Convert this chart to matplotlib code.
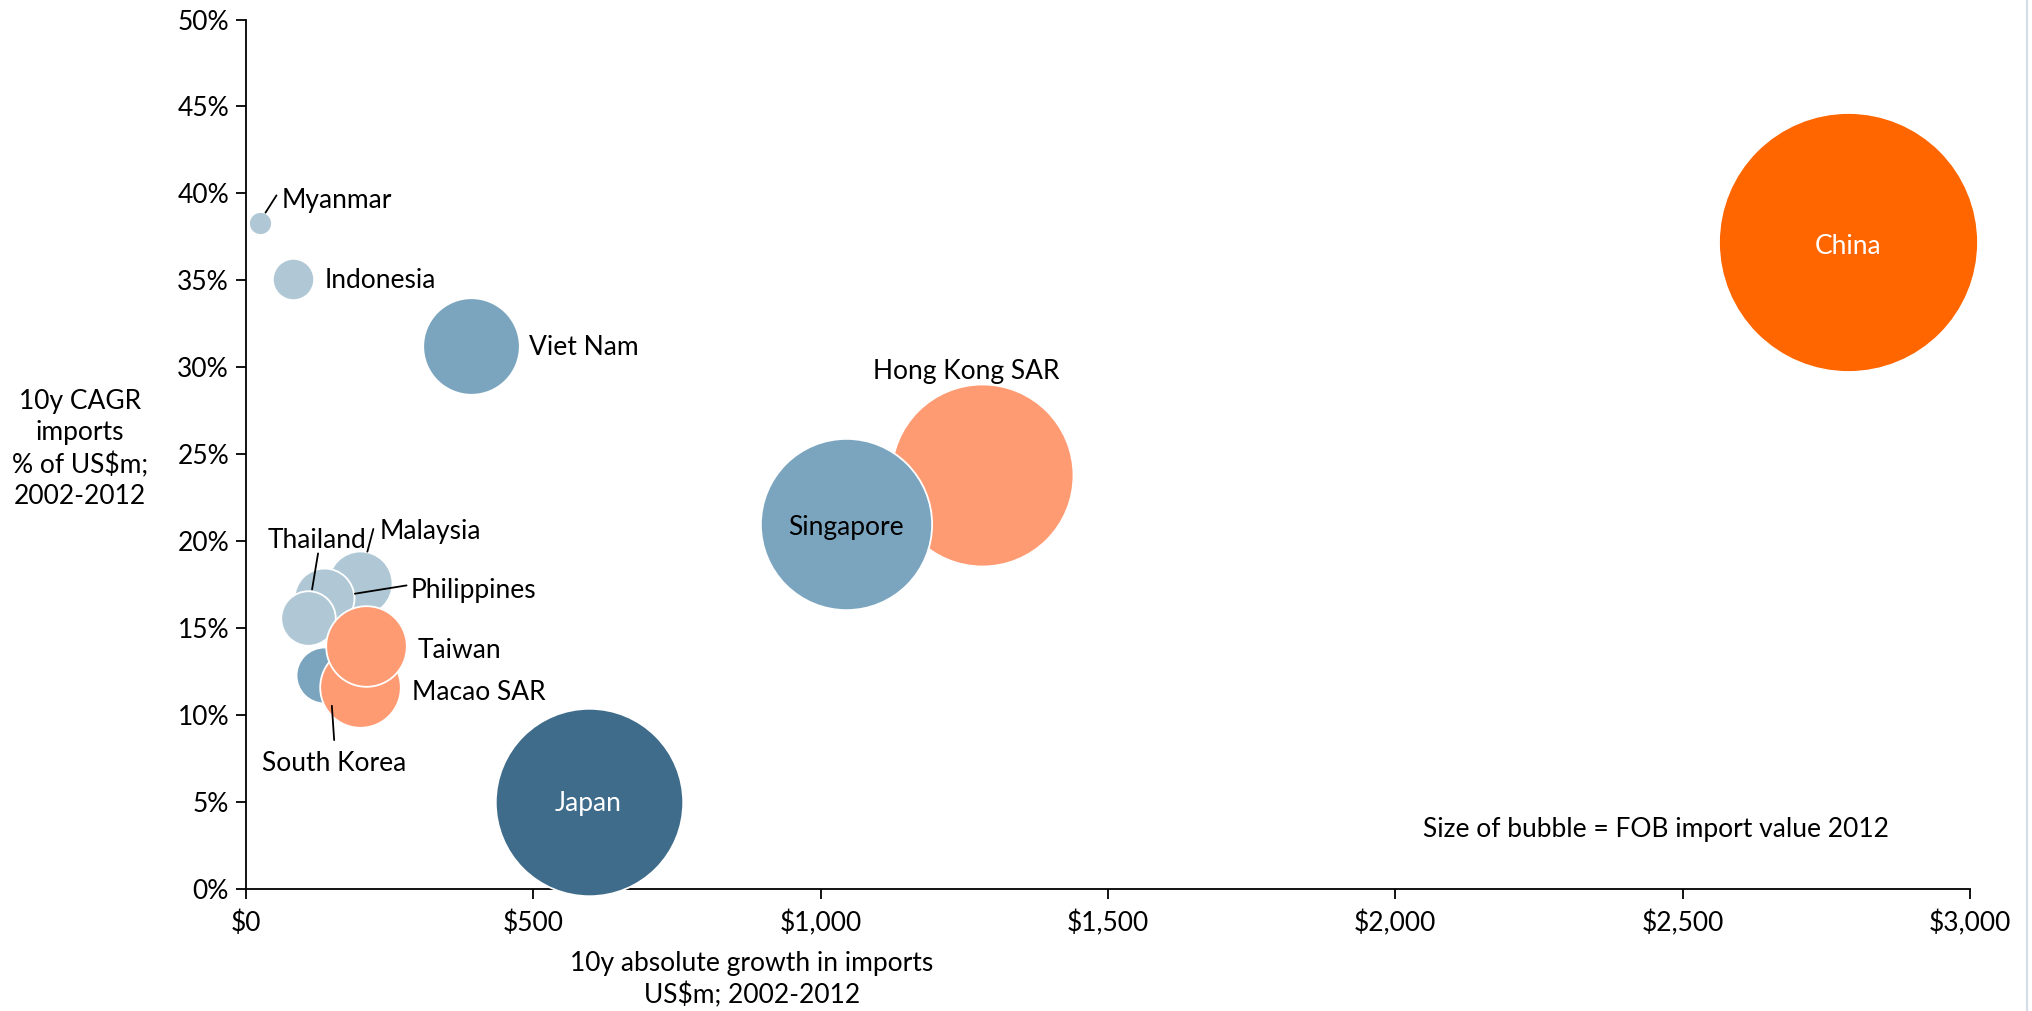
import numpy as np
import matplotlib
matplotlib.use('Agg')
from matplotlib import pyplot as plt
from matplotlib.transforms import offset_copy
from matplotlib.ticker import FuncFormatter

plt.rcParams['font.family'] = ['Lato', 'DejaVu Sans']

# data
countries = ['China', 'Japan', 'Hong Kong SAR', 'Singapore', 'Viet Nam', 'Indonesia', 'Myanmar',
             'South Korea', 'Malaysia', 'Philippines', 'Thailand', 'Macao SAR', 'Taiwan']
growth = [2788, 596, 1280, 1044, 391, 82, 24, 136, 199, 136, 108, 199, 209]       # US$m 2002-2012
cagr = [37.2, 5.0, 23.8, 21.0, 31.2, 35.1, 38.3, 12.3, 17.6, 16.75, 15.6, 11.6, 14.0]  # %
fob_2012 = [2913, 1525, 1438, 1273, 405, 74, 23, 136, 178, 156, 129, 282, 282]   # bubble size

xticks = [0, 500, 1000, 1500, 2000, 2500, 3000]
yticks = [0, 5, 10, 15, 20, 25, 30, 35, 40, 45, 50]

china_c = '#FF6600'
salmon = '#FF9B73'
mid_blue = '#7BA5BF'
dark_blue = '#3E6C8A'
light_blue = '#B0C8D6'
colors = {'China': china_c, 'Japan': dark_blue, 'Hong Kong SAR': salmon, 'Singapore': mid_blue,
          'Viet Nam': mid_blue, 'Indonesia': light_blue, 'Myanmar': light_blue,
          'South Korea': mid_blue, 'Malaysia': light_blue, 'Philippines': light_blue,
          'Thailand': light_blue, 'Macao SAR': salmon, 'Taiwan': salmon}

fs = 19
dpi = 100
fig = plt.figure(figsize=(20.33, 10.11), dpi=dpi)
ax = fig.add_axes([246/2033, 1 - 889/1011, (1970-246)/2033, (889-19.5)/1011])

bubble_scale = 11.94
for name, gx, gy, v in zip(countries, growth, cagr, fob_2012):
    ax.scatter(gx, gy, s=v*bubble_scale, color=colors[name], edgecolor='white',
               linewidth=1.3, zorder=3, clip_on=False)

ax.set_xlim(0, 3000)
ax.set_ylim(0, 50)
ax.set_xticks(xticks)
ax.set_yticks(yticks)
ax.xaxis.set_major_formatter(FuncFormatter(lambda v, p: '${:,.0f}'.format(v)))
ax.yaxis.set_major_formatter(FuncFormatter(lambda v, p: '{:.0f}%'.format(v)))
for s in ['top', 'right']:
    ax.spines[s].set_visible(False)
for s in ['left', 'bottom']:
    ax.spines[s].set_linewidth(1.3)
ax.tick_params(axis='both', direction='out', length=7.2, width=1.3, labelsize=fs)
ax.tick_params(axis='x', pad=8)
ax.tick_params(axis='y', pad=5)

ax.set_xlabel('10y absolute growth in imports\nUS$m; 2002-2012', fontsize=fs, linespacing=1.3)
ax.xaxis.set_label_coords((752-246)/1724, -(951-889)/869.5)
ax.xaxis.label.set_va('top')
ax.set_ylabel('10y CAGR\nimports\n% of US$m;\n2002-2012', fontsize=fs, rotation=0,
              ha='center', va='center', linespacing=1.32)
ax.yaxis.set_label_coords(-(246-80)/1724, (889-449)/869.5)

# label positions: offsets from bubble centre in pixels (y down), converted to points
k = 72/dpi
shift = 4  # text centre vs. cap centre
labels = {
    'China': ((0, 0), 'center', 'white', None),
    'Japan': ((0, -3), 'center', 'white', None),
    'Singapore': ((0, 0), 'center', 'black', None),
    'Hong Kong SAR': ((-15.7, -108), 'center', 'black', None),
    'Viet Nam': ((58.3, -3.3), 'left', 'black', None),
    'Indonesia': ((31.7, -2.4), 'left', 'black', None),
    'Myanmar': ((21.7, -26.6), 'left', 'black', ((5.7, -10.3), (16.7, -27.6))),
    'Malaysia': ((19.7, -55.7), 'left', 'black', ((7, -31.3), (13, -54))),
    'Thailand': ((9.2, -81.3), 'center', 'black', ((4, -28.3), (10, -64.3))),
    'Philippines': ((86.7, -11.3), 'left', 'black', ((30.7, -4), (82.4, -12.3))),
    'Taiwan': ((51.3, 1.4), 'left', 'black', None),
    'Macao SAR': ((52, 1.7), 'left', 'black', None),
    'South Korea': ((9.8, 84.8), 'center', 'black', ((7.7, 30.7), (10, 65))),
}
for name, gx, gy in zip(countries, growth, cagr):
    (dx, dy), ha, col, lead = labels[name]
    ax.annotate(name, xy=(gx, gy), xytext=(dx*k, -(dy+shift)*k), textcoords='offset points',
                ha=ha, va='center', fontsize=fs, color=col, zorder=5, annotation_clip=False)
    if lead is not None:
        (x0, y0), (x1, y1) = lead
        t0 = offset_copy(ax.transData, fig=fig, x=x0*k, y=-y0*k, units='points')
        t1 = offset_copy(ax.transData, fig=fig, x=x1*k, y=-y1*k, units='points')
        ax.annotate('', xy=(gx, gy), xycoords=t0, xytext=(gx, gy), textcoords=t1,
                    arrowprops=dict(arrowstyle='-', color='black', lw=1.3,
                                    shrinkA=0, shrinkB=0), zorder=5, annotation_clip=False)

fig.text(1889/2033, 1 - 829/1011, 'Size of bubble = FOB import value 2012',
         ha='right', va='center', fontsize=fs)

# thin page border on the right
fig.add_artist(plt.Line2D([2027/2033, 2027/2033], [0, 1], color='#D3DEE8', lw=1.5))

fig.savefig('out.png', dpi=dpi)
